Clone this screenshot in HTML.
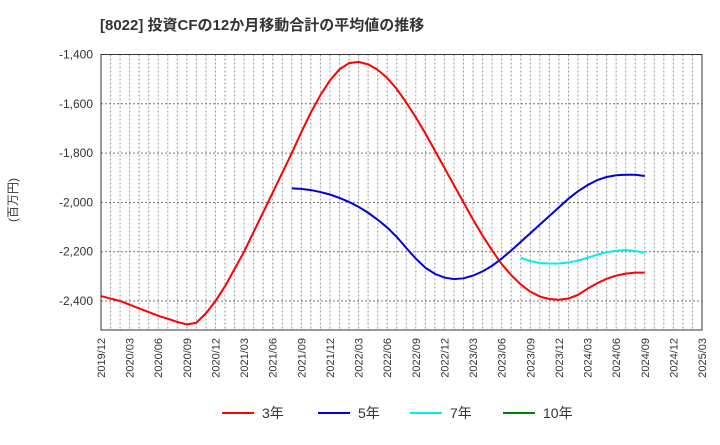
<!DOCTYPE html>
<html><head><meta charset="utf-8"><style>
body{margin:0;background:#fff;width:720px;height:440px;overflow:hidden;font-family:"Liberation Sans","Noto Sans CJK JP",sans-serif;}
</style></head><body>
<svg id="chart" width="720" height="440" font-family="Liberation Sans, Noto Sans CJK JP, sans-serif">
<text x="100" y="30" font-size="15" font-weight="bold" fill="#333">[8022]  投資CFの12か月移動合計の平均値の推移</text>
<text transform="translate(17,200) rotate(-90)" text-anchor="middle" font-size="12" fill="#333">(百万円)</text>
<g id="grid"></g><g id="yt"></g><g id="xt"></g><g id="series"></g>
<rect x="101" y="54.5" width="601" height="275.5" fill="none" stroke="#333"/>
<g id="legend"></g>
</svg>
<script>
const xLabels=["2019/12","2020/03","2020/06","2020/09","2020/12","2021/03","2021/06","2021/09","2021/12","2022/03","2022/06","2022/09","2022/12","2023/03","2023/06","2023/09","2023/12","2024/03","2024/06","2024/09","2024/12","2025/03"];
const yTicks=[-1400,-1600,-1800,-2000,-2200,-2400];
const s3=[-2380,-2390,-2400,-2415,-2430,-2445,-2460,-2472,-2485,-2495,-2488,-2450,-2400,-2340,-2270,-2200,-2120,-2040,-1960,-1880,-1800,-1715,-1635,-1565,-1505,-1460,-1435,-1430,-1440,-1462,-1495,-1540,-1595,-1655,-1720,-1790,-1860,-1930,-2000,-2070,-2135,-2195,-2250,-2295,-2333,-2362,-2382,-2392,-2395,-2390,-2375,-2350,-2328,-2310,-2297,-2289,-2285,-2285];
const s5start=20;
const s5=[-1943,-1945,-1950,-1958,-1968,-1982,-1998,-2018,-2042,-2070,-2102,-2140,-2185,-2228,-2265,-2290,-2305,-2311,-2308,-2297,-2280,-2257,-2228,-2195,-2160,-2125,-2090,-2055,-2020,-1985,-1955,-1930,-1910,-1897,-1890,-1888,-1888,-1893];
const s7start=44;
const s7=[-2225,-2238,-2246,-2248,-2248,-2244,-2236,-2225,-2212,-2202,-2196,-2193,-2197,-2204];
const NS="http://www.w3.org/2000/svg";
const L=101,R=702,T=54.5,B=330;
const X=m=>L+(R-L)*m/63;
const Y=v=>T+(-1400-v)/200*49.3;
function mk(t,a,p){const e=document.createElementNS(NS,t);for(const k in a)e.setAttribute(k,a[k]);p.appendChild(e);return e;}
const g=document.getElementById('grid');
for(let m=1;m<63;m++){const l=mk('line',{x1:X(m),x2:X(m),y1:T,y2:B,stroke:'#999','stroke-dasharray':'2,2'},g);

}
const yt=document.getElementById('yt');
yTicks.forEach(v=>{if(v!==-1400){const l=mk('line',{x1:L,x2:R,y1:Y(v),y2:Y(v),stroke:'#777','stroke-dasharray':'2,2'},g);

}
const t=mk('text',{x:93,y:Y(v)+4,'text-anchor':'end','font-size':12,fill:'#333'},yt);t.textContent=v.toLocaleString('en-US');

});
const xt=document.getElementById('xt');
xLabels.forEach((s,i)=>{const x=X(i*3);const t=mk('text',{transform:`translate(${x+4},338) rotate(-90)`,'text-anchor':'end','font-size':11,fill:'#333'},xt);t.textContent=s;

});
const sg=document.getElementById('series');
function line(arr,start,color,name){const p=mk('polyline',{points:arr.map((v,i)=>X(start+i)+','+Y(v)).join(' '),fill:'none',stroke:color,'stroke-width':2},sg);

}
line(s3,0,'#ff0000','series-3y');
line(s5,s5start,'#0000dd','series-5y');
line(s7,s7start,'#00eeee','series-7y');
const lg=document.getElementById('legend');
[['3年','#ff0000',222],['5年','#0000dd',318],['7年','#00eeee',410],['10年','#008000',503]].forEach(([n,c,x])=>{
const l=mk('line',{x1:x,x2:x+32,y1:413,y2:413,stroke:c,'stroke-width':2},lg);


const t=mk('text',{x:x+40,y:418,'font-size':14,fill:'#333'},lg);t.textContent=n;

});
</script>
</body></html>
